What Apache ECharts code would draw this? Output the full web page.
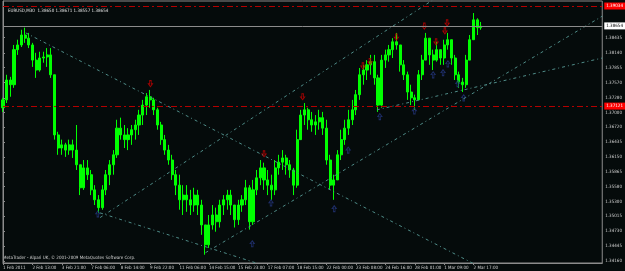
<!DOCTYPE html>
<html>
<head>
<meta charset="utf-8">
<script src="https://cdn.jsdelivr.net/npm/echarts@6/dist/echarts.min.js"></script>
<style>
  html, body { margin: 0; padding: 0; background: #050b0b; }
  #chart { width: 625px; height: 271px; }
</style>
</head>
<body>
<div id="chart"></div>
<script>
// EURUSD M30, one candle = 4 hours (8 bars), a time label every 8 candles
const timeLabels = ["1 Feb 2011", "2 Feb 13:00", "3 Feb 21:00", "7 Feb 06:00", "8 Feb 14:00",
  "9 Feb 22:00", "11 Feb 06:00", "14 Feb 15:00", "15 Feb 23:00", "17 Feb 07:00", "18 Feb 15:00",
  "22 Feb 00:00", "23 Feb 08:00", "24 Feb 16:00", "28 Feb 01:00", "1 Mar 09:00", "2 Mar 17:00"];

const opens = [
  1.3709, 1.3724, 1.3762, 1.3753, 1.3820, 1.3829, 1.3848, 1.3842, 1.3829, 1.3800,
  1.3781, 1.3804, 1.3806, 1.3810, 1.3772, 1.3657, 1.3632, 1.3638, 1.3628, 1.3638,
  1.3628, 1.3600, 1.3556, 1.3594, 1.3581, 1.3552, 1.3533, 1.3518, 1.3552, 1.3581,
  1.3600, 1.3619, 1.3670, 1.3657, 1.3648, 1.3657, 1.3667, 1.3676, 1.3695, 1.3714,
  1.3730, 1.3724, 1.3705, 1.3676, 1.3648, 1.3628, 1.3609, 1.3581, 1.3561, 1.3533,
  1.3542, 1.3533, 1.3523, 1.3542, 1.3523, 1.3485, 1.3447, 1.3485, 1.3504, 1.3491,
  1.3523, 1.3533, 1.3542, 1.3523, 1.3495, 1.3523, 1.3533, 1.3556, 1.3491, 1.3552,
  1.3575, 1.3594, 1.3571, 1.3561, 1.3552, 1.3594, 1.3605, 1.3613, 1.3600, 1.3590,
  1.3561, 1.3648, 1.3695, 1.3705, 1.3686, 1.3676, 1.3682, 1.3690, 1.3670, 1.3609,
  1.3561, 1.3571, 1.3619, 1.3648, 1.3670, 1.3686, 1.3705, 1.3734, 1.3772, 1.3781,
  1.3791, 1.3797, 1.3766, 1.3714, 1.3800, 1.3810, 1.3820, 1.3835, 1.3829, 1.3791,
  1.3772, 1.3739, 1.3728, 1.3724, 1.3772, 1.3800, 1.3842, 1.3810, 1.3800, 1.3820,
  1.3804, 1.3829, 1.3839, 1.3804, 1.3772, 1.3758, 1.3753, 1.3800, 1.3839, 1.3877, 1.3862
];
const closes = [
  1.3724, 1.3762, 1.3753, 1.3820, 1.3829, 1.3848, 1.3842, 1.3829, 1.3800, 1.3781,
  1.3804, 1.3806, 1.3810, 1.3772, 1.3657, 1.3632, 1.3638, 1.3628, 1.3638, 1.3628,
  1.3600, 1.3556, 1.3594, 1.3581, 1.3552, 1.3533, 1.3518, 1.3552, 1.3581, 1.3600,
  1.3619, 1.3670, 1.3657, 1.3648, 1.3657, 1.3667, 1.3676, 1.3695, 1.3714, 1.3730,
  1.3724, 1.3705, 1.3676, 1.3648, 1.3628, 1.3609, 1.3581, 1.3561, 1.3533, 1.3542,
  1.3533, 1.3523, 1.3542, 1.3523, 1.3485, 1.3447, 1.3485, 1.3504, 1.3491, 1.3523,
  1.3533, 1.3542, 1.3523, 1.3495, 1.3523, 1.3533, 1.3556, 1.3491, 1.3552, 1.3575,
  1.3594, 1.3571, 1.3561, 1.3552, 1.3594, 1.3605, 1.3613, 1.3600, 1.3590, 1.3561,
  1.3648, 1.3695, 1.3705, 1.3686, 1.3676, 1.3682, 1.3690, 1.3670, 1.3609, 1.3561,
  1.3571, 1.3619, 1.3648, 1.3670, 1.3686, 1.3705, 1.3734, 1.3772, 1.3781, 1.3791,
  1.3797, 1.3766, 1.3714, 1.3800, 1.3810, 1.3820, 1.3835, 1.3829, 1.3791, 1.3772,
  1.3739, 1.3728, 1.3724, 1.3772, 1.3800, 1.3842, 1.3810, 1.3800, 1.3820, 1.3804,
  1.3829, 1.3839, 1.3804, 1.3772, 1.3758, 1.3753, 1.3800, 1.3839, 1.3877, 1.3862, 1.3865
];
const lows = [
  1.3701, 1.3718, 1.3730, 1.3747, 1.3810, 1.3825, 1.3833, 1.3823, 1.3787, 1.3766,
  1.3778, 1.3795, 1.3787, 1.3766, 1.3648, 1.3619, 1.3619, 1.3615, 1.3619, 1.3613,
  1.3590, 1.3542, 1.3552, 1.3571, 1.3542, 1.3523, 1.3508, 1.3514, 1.3542, 1.3561,
  1.3581, 1.3613, 1.3648, 1.3632, 1.3628, 1.3638, 1.3648, 1.3657, 1.3676, 1.3695,
  1.3709, 1.3695, 1.3667, 1.3638, 1.3619, 1.3600, 1.3571, 1.3542, 1.3514, 1.3504,
  1.3510, 1.3504, 1.3510, 1.3504, 1.3466, 1.3428, 1.3441, 1.3476, 1.3472, 1.3480,
  1.3504, 1.3514, 1.3504, 1.3480, 1.3485, 1.3510, 1.3523, 1.3476, 1.3485, 1.3542,
  1.3561, 1.3552, 1.3542, 1.3533, 1.3542, 1.3581, 1.3590, 1.3581, 1.3575, 1.3542,
  1.3556, 1.3648, 1.3676, 1.3667, 1.3663, 1.3657, 1.3667, 1.3657, 1.3600, 1.3552,
  1.3533, 1.3571, 1.3609, 1.3638, 1.3657, 1.3676, 1.3695, 1.3724, 1.3753, 1.3762,
  1.3772, 1.3753, 1.3701, 1.3709, 1.3785, 1.3797, 1.3804, 1.3820, 1.3778, 1.3762,
  1.3724, 1.3714, 1.3705, 1.3724, 1.3762, 1.3800, 1.3791, 1.3781, 1.3797, 1.3791,
  1.3791, 1.3820, 1.3791, 1.3762, 1.3747, 1.3739, 1.3747, 1.3800, 1.3839, 1.3848, 1.3858
];
const highs = [
  1.3728, 1.3772, 1.3768, 1.3829, 1.3839, 1.3858, 1.3862, 1.3852, 1.3833, 1.3814,
  1.3816, 1.3816, 1.3823, 1.3823, 1.3772, 1.3663, 1.3648, 1.3642, 1.3648, 1.3648,
  1.3676, 1.3600, 1.3609, 1.3609, 1.3590, 1.3561, 1.3542, 1.3561, 1.3590, 1.3609,
  1.3628, 1.3686, 1.3690, 1.3676, 1.3670, 1.3676, 1.3686, 1.3705, 1.3724, 1.3737,
  1.3743, 1.3728, 1.3709, 1.3682, 1.3657, 1.3638, 1.3619, 1.3590, 1.3581, 1.3561,
  1.3561, 1.3552, 1.3556, 1.3552, 1.3533, 1.3485, 1.3504, 1.3523, 1.3518, 1.3533,
  1.3542, 1.3552, 1.3552, 1.3523, 1.3533, 1.3542, 1.3571, 1.3561, 1.3571, 1.3590,
  1.3609, 1.3604, 1.3590, 1.3581, 1.3609, 1.3619, 1.3628, 1.3619, 1.3609, 1.3594,
  1.3667, 1.3705, 1.3718, 1.3709, 1.3701, 1.3695, 1.3705, 1.3701, 1.3686, 1.3619,
  1.3581, 1.3628, 1.3667, 1.3686, 1.3705, 1.3724, 1.3743, 1.3785, 1.3791, 1.3800,
  1.3810, 1.3810, 1.3772, 1.3810, 1.3820, 1.3829, 1.3842, 1.3852, 1.3829, 1.3800,
  1.3778, 1.3753, 1.3734, 1.3781, 1.3810, 1.3852, 1.3842, 1.3820, 1.3835, 1.3820,
  1.3839, 1.3852, 1.3839, 1.3810, 1.3778, 1.3766, 1.3810, 1.3848, 1.3890, 1.3880, 1.3873
];

const priceTicks = [1.38435, 1.38140, 1.37855, 1.37570, 1.37280, 1.37000, 1.36720, 1.36435,
  1.36150, 1.35865, 1.35580, 1.35300, 1.35015, 1.34730, 1.34445, 1.34160];
const redLevels = [1.39034, 1.37121];
const lastPrice = 1.38654;
const quote = "EURUSD,M30  1.38650 1.38671 1.38557 1.38654";

// trend lines: [candle index, price] pairs
const trendLines = [
  [[6.2, 1.3852], [129.1, 1.3407]],
  [[26.4, 1.3499], [117.8, 1.3919]],
  [[55.1, 1.3432], [163, 1.3884]],
  [[101.7, 1.3705], [163, 1.3804]],
  [[26.4, 1.3508], [69.4, 1.3411]]
];
// fractal arrows
const downArrows = [[40.1, 1.3755], [71, 1.3621], [81.5, 1.3730], [97.9, 1.3789], [99.8, 1.3797],
  [107, 1.3844], [114.6, 1.3865], [117.8, 1.3835], [120.2, 1.3856], [120.8, 1.3871]];
const upArrows = [[25.8, 1.3506], [67.8, 1.3449], [72.9, 1.3527], [90.1, 1.3516], [93.9, 1.3628],
  [102.5, 1.3692], [111.9, 1.3703], [117, 1.3772], [119.7, 1.3776], [121, 1.3793], [123.7, 1.3755],
  [125.3, 1.3728]];

const nCats = 164;
const categories = [];
for (let i = 0; i < nCats; i++) {
  categories.push(i % 8 === 0 && timeLabels[i / 8] ? timeLabels[i / 8] : "");
}
const candles = opens.map((o, i) => [o, closes[i], lows[i], highs[i]]);

const chart = echarts.init(document.getElementById("chart"), null, { renderer: "canvas" });

const axisColor = "#8c8c8c";
const textColor = "#d0d0d0";
const trendColor = "#4f8c88";
const font = "'DejaVu Sans Condensed', 'Liberation Sans Narrow', sans-serif";
const fs = 4.5;

const levelLabel = (v, fg, bg) => ({
  position: "end", distance: 2, formatter: v.toFixed(5),
  color: fg, backgroundColor: bg, padding: [1, 3, 1, 2],
  fontSize: fs, fontFamily: font
});

const option = {
  backgroundColor: "#050b0b",
  animation: false,
  title: {
    text: quote,
    left: 3,
    top: 3,
    textStyle: { color: "#e0e0e0", fontSize: fs, fontWeight: "normal", fontFamily: font }
  },
  graphic: [{
    type: "text",
    left: 3,
    top: 255,
    style: {
      text: "MetaTrader - Alpari UK, \u00a9 2001-2009 MetaQuotes Software Corp.",
      fill: "#d0d0d0",
      font: fs + "px " + font
    }
  }],
  grid: {
    left: 2, right: 17, top: 1, bottom: 8,
    show: true, borderColor: axisColor, borderWidth: 1
  },
  xAxis: [
    {
      type: "category",
      data: categories,
      boundaryGap: false,
      axisLine: { lineStyle: { color: axisColor } },
      axisTick: { length: 2, interval: (i) => i % 8 === 0 && i <= 128, lineStyle: { color: axisColor } },
      axisLabel: {
        interval: 0, align: "left", margin: 2,
        color: textColor, fontSize: fs, fontFamily: font
      },
      splitLine: { show: false }
    },
    { type: "value", min: 0, max: nCats - 1, show: false }
  ],
  yAxis: {
    type: "value",
    position: "right",
    min: 1.34122,
    max: 1.3913,
    axisLine: { show: true, lineStyle: { color: axisColor } },
    axisTick: { show: true, length: 2, customValues: priceTicks, lineStyle: { color: axisColor } },
    axisLabel: {
      customValues: priceTicks, margin: 3,
      color: textColor, fontSize: fs, fontFamily: font,
      formatter: (v) => v.toFixed(5)
    },
    splitLine: { show: false }
  },
  series: [
    {
      type: "candlestick",
      data: candles,
      barWidth: 2.6,
      itemStyle: { color: "#00ff00", color0: "#00ff00", borderColor: "#00ff00", borderColor0: "#00ff00", borderWidth: 1 }
    },
    {
      // horizontal levels
      type: "line",
      xAxisIndex: 1,
      data: [],
      silent: true,
      markLine: {
        symbol: "none",
        silent: true,
        precision: 5,
        data: [
          ...redLevels.map((v) => ({
            yAxis: v,
            lineStyle: { color: "#b40000", width: 1, type: [6, 3, 2, 3] },
            label: levelLabel(v, "#ffffff", "#ff0000")
          })),
          {
            yAxis: lastPrice,
            lineStyle: { color: "#8c8c8c", width: 1, type: "solid" },
            label: levelLabel(lastPrice, "#000000", "#ffffff")
          }
        ]
      }
    },
    ...trendLines.map((pts) => ({
      type: "line",
      xAxisIndex: 1,
      data: pts,
      symbol: "none",
      silent: true,
      lineStyle: { color: trendColor, width: 1, type: [3, 3, 1, 3] }
    })),
    {
      type: "scatter",
      xAxisIndex: 1,
      data: downArrows,
      symbol: "path://M3,0 L7,0 L7,6 L10,6 L5,11 L0,6 L3,6 Z",
      symbolSize: [4, 6],
      itemStyle: { color: "transparent", borderColor: "#c80000", borderWidth: 1 },
      silent: true
    },
    {
      type: "scatter",
      xAxisIndex: 1,
      data: upArrows,
      symbol: "path://M5,0 L10,5 L7,5 L7,11 L3,11 L3,5 L0,5 Z",
      symbolSize: [4, 6],
      itemStyle: { color: "transparent", borderColor: "#23347a", borderWidth: 1 },
      silent: true
    }
  ]
};
chart.setOption(option);
</script>
</body>
</html>
